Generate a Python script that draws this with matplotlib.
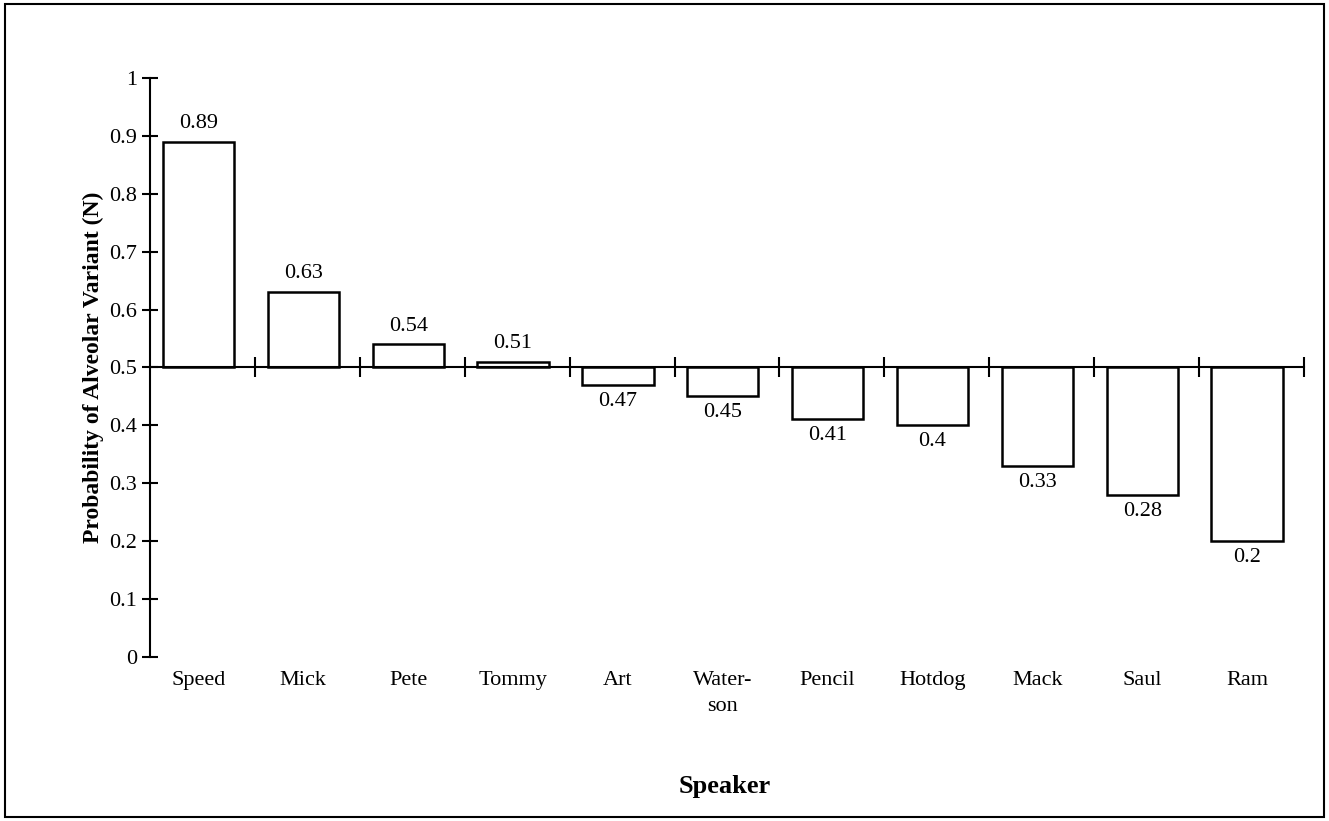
import matplotlib
matplotlib.use("Agg")
import matplotlib.pyplot as plt
from matplotlib.patches import Rectangle

speakers = ["Speed", "Mick", "Pete", "Tommy", "Art", "Water-\nson", "Pencil", "Hotdog", "Mack", "Saul", "Ram"]
values = [0.89, 0.63, 0.54, 0.51, 0.47, 0.45, 0.41, 0.40, 0.33, 0.28, 0.20]
labels = ["0.89", "0.63", "0.54", "0.51", "0.47", "0.45", "0.41", "0.4", "0.33", "0.28", "0.2"]

plt.rcParams['font.family'] = ['Liberation Serif', 'DejaVu Serif']
fig = plt.figure(figsize=(13.29, 8.21), dpi=100)
fig.patches.append(Rectangle((0.004, 0.005), 0.992, 0.99, transform=fig.transFigure,
                             fill=False, edgecolor='black', linewidth=1.5))
ax = fig.add_axes([0.113, 0.2, 0.868, 0.705])
x = list(range(len(values)))
ax.bar([xi - 0.04 for xi in x], [v - 0.5 for v in values], bottom=0.5, width=0.68, color='white',
       edgecolor='black', linewidth=1.8)
for xi, v, l in zip(x, values, labels):
    if v >= 0.5:
        ax.text(xi - 0.04, v + 0.015, l, ha='center', va='bottom', fontsize=16)
    else:
        ax.text(xi - 0.04, v - 0.012, l, ha='center', va='top', fontsize=16)
for xi, s in zip(x, speakers):
    ax.text(xi - 0.04, -0.025, s, ha='center', va='top', fontsize=16, linespacing=1.45)

ax.set_xlim(-0.5, 10.5)
ax.set_ylim(0, 1)
for s in ['top', 'right']:
    ax.spines[s].set_visible(False)
ax.spines['bottom'].set_position(('data', 0.5))
ax.spines['bottom'].set_linewidth(1.5)
ax.spines['left'].set_linewidth(1.5)
ax.set_xticks([i + 0.5 for i in range(11)])
ax.set_xticklabels([])
ax.tick_params(axis='x', direction='inout', length=14, width=1.5)
ax.set_yticks([i / 10 for i in range(11)])
ax.set_yticklabels(["0"] + [f"0.{i}" for i in range(1, 10)] + ["1"], fontsize=16)
ax.tick_params(axis='y', direction='inout', length=12, width=1.5)
ax.set_ylabel("Probability of Alveolar Variant (N)", fontsize=17, fontweight='bold', labelpad=4)
fig.text(0.545, 0.028, "Speaker", ha='center', va='bottom', fontsize=19, fontweight='bold')
fig.savefig("out.png")
